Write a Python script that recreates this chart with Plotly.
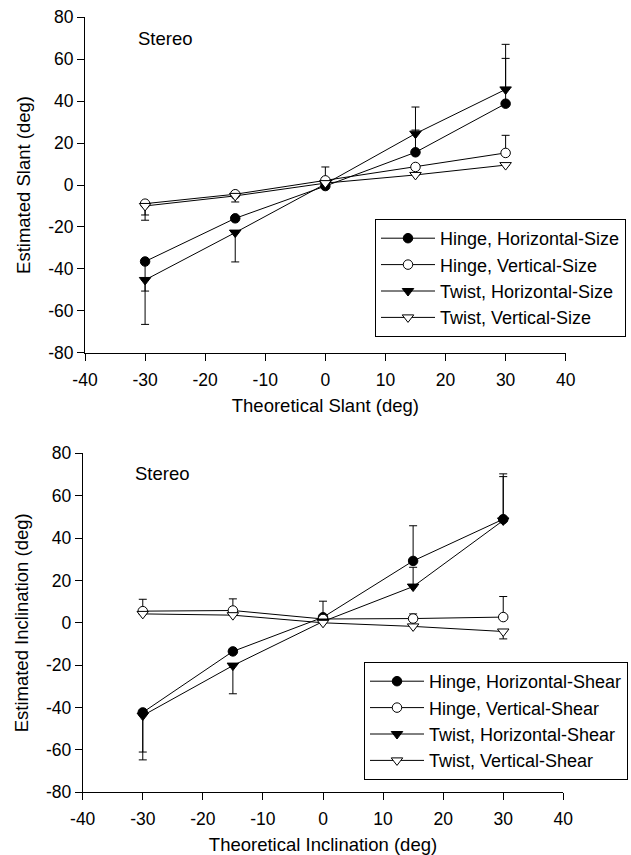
import plotly.graph_objects as go

W, H = 631, 855

x_vals = [-30, -15, 0, 15, 30]

# ---- Top panel: Slant ----
slant_names = ["Hinge, Horizontal-Size", "Hinge, Vertical-Size",
               "Twist, Horizontal-Size", "Twist, Vertical-Size"]
slant_hinge_h = [-36.5, -15.9, -0.5, 15.6, 38.8]
slant_hinge_h_up = [0, 0, 0, 10.6, 21.6]
slant_hinge_h_dn = [14.1, 0, 0, 0, 0]
slant_hinge_v = [-8.9, -4.4, 2.2, 8.6, 15.3]
slant_hinge_v_up = [0, 0, 6.4, 0, 8.4]
slant_hinge_v_dn = [5.4, 0, 0, 0, 0]
slant_twist_h = [-45.3, -22.7, 0.5, 24.5, 45.6]
slant_twist_h_up = [0, 0, 0, 12.7, 21.5]
slant_twist_h_dn = [21.2, 14.0, 0, 0, 0]
slant_twist_v = [-10.0, -5.2, 0.9, 4.8, 9.5]
slant_twist_v_up = [0, 0, 0, 0, 0]
slant_twist_v_dn = [6.8, 2.9, 0, 0, 0]

# ---- Bottom panel: Inclination ----
incl_names = ["Hinge, Horizontal-Shear", "Hinge, Vertical-Shear",
              "Twist, Horizontal-Shear", "Twist, Vertical-Shear"]
incl_hinge_h = [-42.3, -13.5, 2.6, 29.2, 48.9]
incl_hinge_h_up = [0, 0, 0, 16.6, 21.4]
incl_hinge_h_dn = [18.7, 0, 0, 0, 0]
incl_hinge_v = [5.5, 5.8, 1.8, 2.0, 2.7]
incl_hinge_v_up = [5.6, 5.5, 8.4, 2.2, 9.7]
incl_hinge_v_dn = [0, 0, 0, 0, 0]
incl_twist_h = [-43.8, -20.2, 0.6, 17.1, 48.3]
incl_twist_h_up = [0, 0, 0, 9.1, 20.7]
incl_twist_h_dn = [20.9, 13.3, 0, 0, 0]
incl_twist_v = [4.2, 3.6, 0.0, -1.7, -4.1]
incl_twist_v_up = [0, 0, 0, 0, 0]
incl_twist_v_dn = [0, 0, 0, 0, 3.5]

x_ticks = [-40, -30, -20, -10, 0, 10, 20, 30, 40]
x_tick_labels = ["-40", "-30", "-20", "-10", "0", "10", "20", "30", "40"]
y_ticks = [-80, -60, -40, -20, 0, 20, 40, 60, 80]
y_tick_labels = ["-80", "-60", "-40", "-20", "0", "20", "40", "60", "80"]

FONT = "Liberation Sans, Arial, sans-serif"
TICK_SIZE = 17.5
TITLE_SIZE = 18.5
LEG_SIZE = 18

styles = [
    dict(symbol="circle", size=9.5, color="black", line=dict(color="black", width=1)),
    dict(symbol="circle", size=9.5, color="white", line=dict(color="black", width=1)),
    dict(symbol="triangle-down", size=10, color="black", line=dict(color="black", width=1)),
    dict(symbol="triangle-down", size=10, color="white", line=dict(color="black", width=1)),
]

fig = go.Figure()

def add_panel(names, ys, ups, dns, xa, ya, legend):
    for name, y, up, dn, st in zip(names, ys, ups, dns, styles):
        fig.add_trace(go.Scatter(
            x=x_vals, y=y, name=name, mode="lines+markers",
            line=dict(color="black", width=1),
            marker=st,
            error_y=dict(type="data", symmetric=False, array=up, arrayminus=dn,
                         color="black", thickness=1, width=4),
            xaxis=xa, yaxis=ya, legend=legend,
        ))

add_panel(slant_names,
          [slant_hinge_h, slant_hinge_v, slant_twist_h, slant_twist_v],
          [slant_hinge_h_up, slant_hinge_v_up, slant_twist_h_up, slant_twist_v_up],
          [slant_hinge_h_dn, slant_hinge_v_dn, slant_twist_h_dn, slant_twist_v_dn],
          "x", "y", "legend")
add_panel(incl_names,
          [incl_hinge_h, incl_hinge_v, incl_twist_h, incl_twist_v],
          [incl_hinge_h_up, incl_hinge_v_up, incl_twist_h_up, incl_twist_v_up],
          [incl_hinge_h_dn, incl_hinge_v_dn, incl_twist_h_dn, incl_twist_v_dn],
          "x2", "y2", "legend2")

# pixel-based layout helpers
ML, MR, MT, MB = 80, 60, 15, 60
PW, PH = W - ML - MR, H - MT - MB
def px(x):
    return (x - ML) / PW
def py(y):
    return (H - MB - y) / PH

axis_common = dict(showline=True, linecolor="black", linewidth=1, mirror=False,
                   ticks="outside", ticklen=7, tickcolor="black", tickwidth=1,
                   showgrid=False, zeroline=False, automargin=False,
                   tickfont=dict(family=FONT, size=TICK_SIZE, color="black"))

def xaxis(domain, anchor, title):
    return dict(domain=domain, range=[-40, 40], tickmode="array",
                tickvals=x_ticks, ticktext=x_tick_labels, anchor=anchor,
                ticklabelstandoff=4,
                title=dict(text=title, font=dict(family=FONT, size=TITLE_SIZE), standoff=10),
                **axis_common)

def yaxis(domain, anchor, title):
    return dict(domain=domain, range=[-80, 80], tickmode="array",
                tickvals=y_ticks, ticktext=y_tick_labels, anchor=anchor,
                title=dict(text=title, font=dict(family=FONT, size=TITLE_SIZE), standoff=12),
                **axis_common)

legend_common = dict(xanchor="left", yanchor="top", bordercolor="black",
                     borderwidth=1, bgcolor="white", itemwidth=54, tracegroupgap=0,
                     font=dict(family=FONT, size=LEG_SIZE, color="black"))

fig.update_layout(
    width=W, height=H,
    margin=dict(l=ML, r=MR, t=MT, b=MB, autoexpand=False),
    paper_bgcolor="white", plot_bgcolor="white",
    font=dict(family=FONT, size=TICK_SIZE, color="black"),
    xaxis=xaxis([px(85), px(565.7)], "y", "Theoretical Slant (deg)"),
    yaxis=yaxis([py(352.7), py(17.3)], "x", "Estimated Slant (deg)"),
    xaxis2=xaxis([px(82.7), px(563.3)], "y2", "Theoretical Inclination (deg)"),
    yaxis2=yaxis([py(792.3), py(453.3)], "x2", "Estimated Inclination (deg)"),
    legend=dict(x=px(375), y=py(219), **legend_common),
    legend2=dict(x=px(364), y=py(662), **legend_common),
    annotations=[
        dict(text="Stereo", x=px(136), y=py(38), xref="paper", yref="paper",
             xanchor="left", yanchor="middle", showarrow=False,
             font=dict(family=FONT, size=TITLE_SIZE)),
        dict(text="Stereo", x=px(133), y=py(473), xref="paper", yref="paper",
             xanchor="left", yanchor="middle", showarrow=False,
             font=dict(family=FONT, size=TITLE_SIZE)),
    ],
)

fig.write_html("out.html", config={"displayModeBar": False},
               post_script="document.body.style.margin='0px';")
